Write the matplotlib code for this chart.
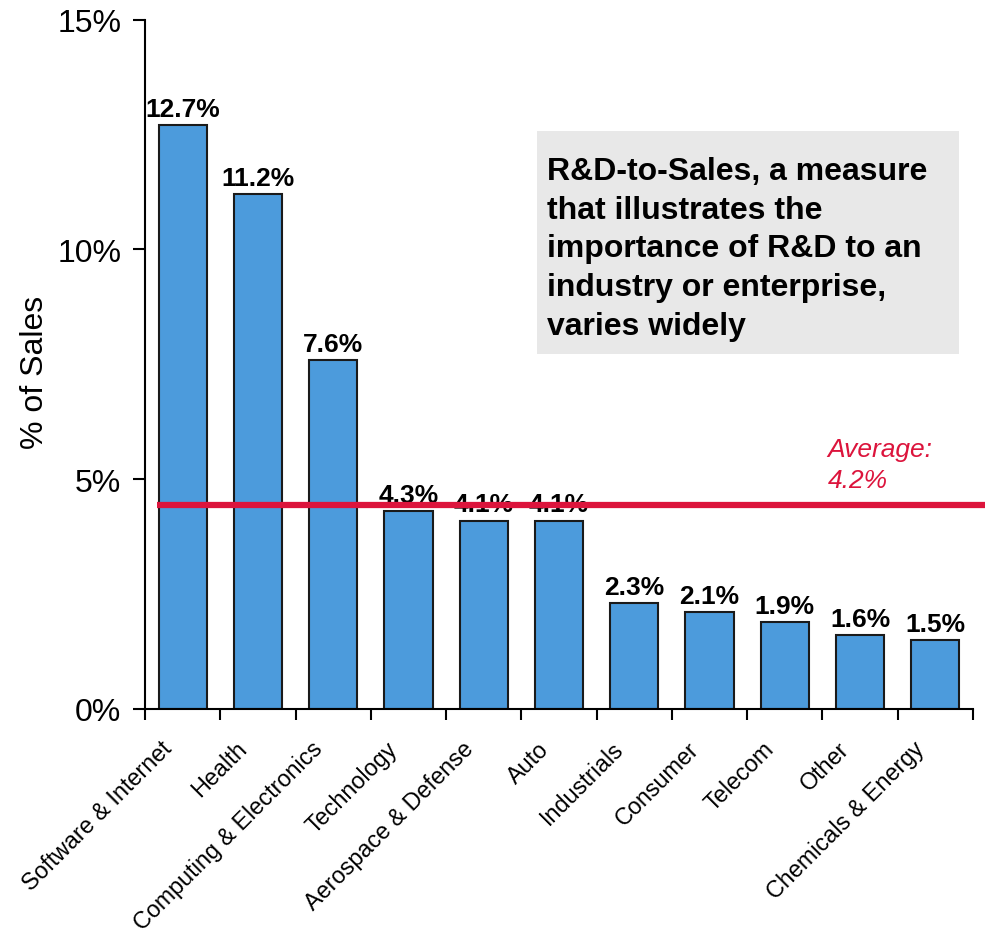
import matplotlib
matplotlib.use("Agg")
import matplotlib.pyplot as plt
from matplotlib.patches import Rectangle
import numpy as np

plt.rcParams['font.family'] = ['Liberation Sans', 'DejaVu Sans']

categories = ["Software & Internet", "Health", "Computing & Electronics", "Technology",
              "Aerospace & Defense", "Auto", "Industrials", "Consumer", "Telecom",
              "Other", "Chemicals & Energy"]
values = [12.7, 11.2, 7.6, 4.3, 4.1, 4.1, 2.3, 2.1, 1.9, 1.6, 1.5]
value_labels = ["12.7%", "11.2%", "7.6%", "4.3%", "4.1%", "4.1%", "2.3%", "2.1%", "1.9%", "1.6%", "1.5%"]
y_ticks = [0, 5, 10, 15]
y_tick_labels = ["0%", "5%", "10%", "15%"]
average_line = 4.44
average_label = "Average:\n4.2%"
note = "R&D-to-Sales, a measure\nthat illustrates the\nimportance of R&D to an\nindustry or enterprise,\nvaries widely"

W, H = 987, 937
fig = plt.figure(figsize=(W/100, H/100), dpi=100)
ax = fig.add_axes([145/W, 1-710/H, (973-145)/W, (710-20.7)/H])

x = np.arange(len(categories))
ax.bar(x, values, width=0.64, color="#4C9BDC", edgecolor="#1a1a1a", linewidth=1.5, zorder=2)

for xi, v, lab in zip(x, values, value_labels):
    ax.annotate(lab, (xi, v), xytext=(0, 3), textcoords="offset points",
                ha="center", va="bottom", fontsize=19, fontweight="bold", zorder=3)

ax.plot([-0.34, 10.66], [average_line, average_line], color="#DC143C", linewidth=4.5,
        clip_on=False, zorder=4, solid_capstyle="butt")
ax.text(8.57, 4.72, average_label, color="#DC143C", fontsize=19, style="italic",
        ha="left", va="bottom", linespacing=1.35)

ax.set_xlim(-0.5, len(categories) - 0.5)
ax.set_ylim(0, 15)
ax.set_yticks(y_ticks)
ax.set_yticklabels(y_tick_labels, fontsize=23)

ax.set_xticks(np.arange(len(categories) + 1) - 0.5)
ax.set_xticklabels([])
ax.tick_params(axis="x", which="major", length=8, width=1.5, direction="out")
ax.tick_params(axis="y", length=9, width=1.5, direction="out", pad=8)

for xi, cat in zip(x, categories):
    ax.annotate(cat, (xi, 0), xycoords=("data", "axes fraction"),
                xytext=(-16, -20), textcoords="offset points",
                rotation=45, rotation_mode="anchor", ha="right", va="top",
                fontsize=16.8, annotation_clip=False)

ax.spines["top"].set_visible(False)
ax.spines["right"].set_visible(False)
ax.spines["left"].set_linewidth(1.5)
ax.spines["bottom"].set_linewidth(1.5)

fig.text(35/W, 1-372/H, "% of Sales", rotation=90, fontsize=23, ha="center", va="center")

fig.add_artist(Rectangle((537/W, 1-355/H), (959-537)/W, (355-132)/H,
                         transform=fig.transFigure, facecolor="#E8E8E8", edgecolor="none", zorder=1))
fig.text(547/W, 1-157/H, note, fontsize=23, fontweight="bold", ha="left", va="top",
         linespacing=1.38, zorder=2)

fig.savefig("out.png", dpi=100)
